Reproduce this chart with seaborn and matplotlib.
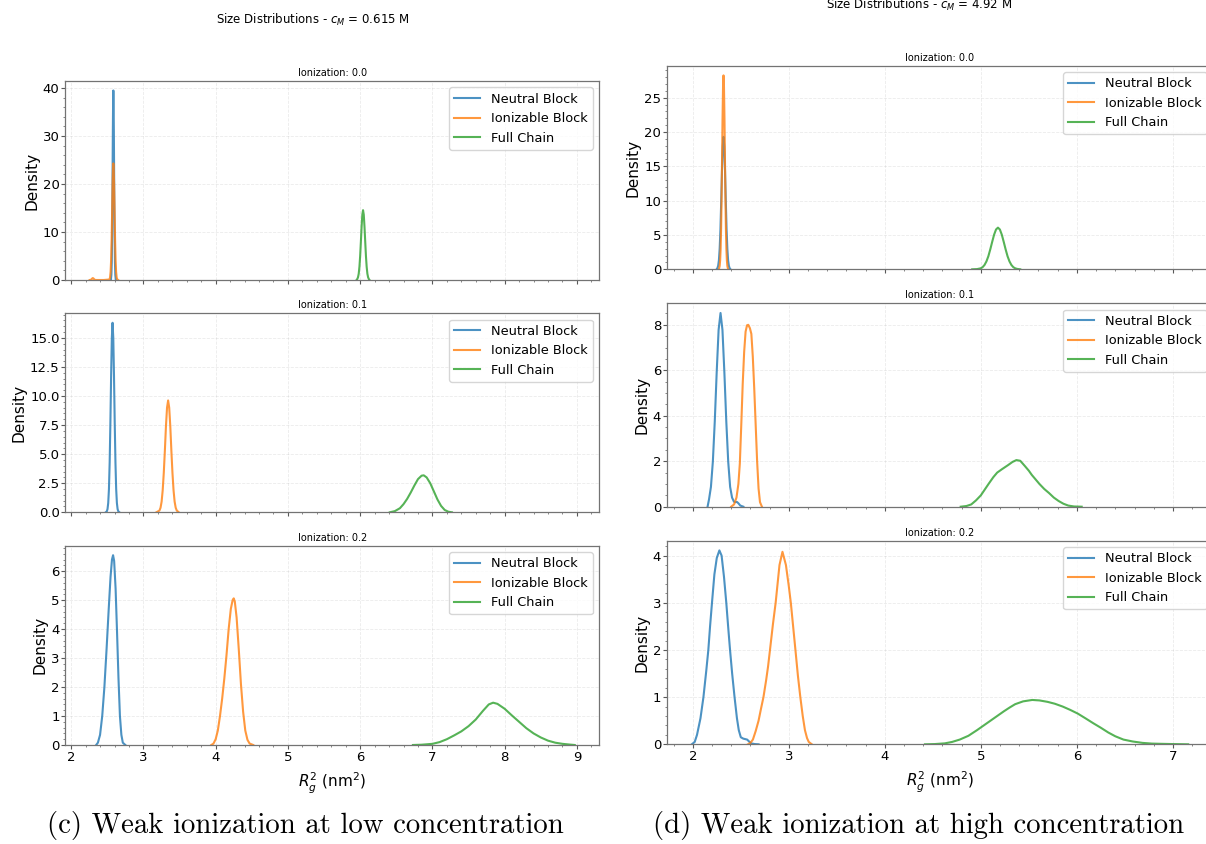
import matplotlib
matplotlib.use("Agg")
import matplotlib.pyplot as plt
from matplotlib.ticker import MultipleLocator, AutoMinorLocator, MaxNLocator
import seaborn as sns

# ---------------------------------------------------------------
# Density of R_g^2 (nm^2) for each block, c_M = 0.615 M
# ---------------------------------------------------------------
low_i00_neutral_x = [2.550, 2.557, 2.562, 2.567, 2.572, 2.577, 2.581, 2.584, 2.587, 2.591, 2.596, 2.601, 2.606, 2.611, 2.618]
low_i00_neutral_y = [0.0, 1.1, 3.7, 9.6, 19.4, 31.0, 37.8, 39.5, 37.8, 31.0, 19.4, 9.6, 3.7, 1.1, 0.0]
low_i00_ionizable_x = [2.256, 2.275, 2.290, 2.300, 2.310, 2.325, 2.345, 2.450, 2.529, 2.538, 2.546, 2.553, 2.560, 2.567, 2.574, 2.579, 2.584, 2.589, 2.594, 2.601, 2.608, 2.615, 2.622, 2.630, 2.639, 2.650]
low_i00_ionizable_y = [0.0, 0.05, 0.3, 0.4, 0.3, 0.05, 0.0, 0.0, 0.1, 0.5, 1.7, 4.1, 8.3, 14.2, 20.2, 23.2, 24.3, 23.2, 20.2, 14.2, 8.3, 4.1, 1.7, 0.5, 0.1, 0.0]
low_i00_full_x = [5.95, 5.96, 5.97, 5.98, 5.99, 6.00, 6.01, 6.02, 6.03, 6.04, 6.05, 6.06, 6.07, 6.08, 6.09, 6.10, 6.11, 6.12, 6.13]
low_i00_full_y = [0.0, 0.2, 0.56, 1.3, 2.75, 5.0, 8.0, 11.1, 13.6, 14.55, 13.6, 11.1, 8.0, 5.0, 2.75, 1.3, 0.56, 0.2, 0.0]

low_i01_neutral_x = [2.478, 2.493, 2.503, 2.513, 2.523, 2.533, 2.543, 2.553, 2.563, 2.573, 2.583, 2.593, 2.603, 2.613, 2.623, 2.633, 2.643, 2.653, 2.668]
low_i01_neutral_y = [0.0, 0.08, 0.27, 0.8, 2.0, 4.3, 7.7, 11.7, 15.0, 16.3, 15.0, 11.7, 7.7, 4.3, 2.0, 0.8, 0.27, 0.08, 0.0]
low_i01_ionizable_x = [3.180, 3.222, 3.237, 3.252, 3.267, 3.282, 3.297, 3.312, 3.327, 3.342, 3.357, 3.372, 3.387, 3.402, 3.417, 3.432, 3.447, 3.462, 3.490]
low_i01_ionizable_y = [0.0, 0.15, 0.39, 0.92, 1.9, 3.4, 5.3, 7.4, 9.0, 9.62, 9.0, 7.4, 5.3, 3.4, 1.9, 0.92, 0.39, 0.15, 0.0]
low_i01_full_x = [6.41, 6.48, 6.55, 6.60, 6.65, 6.70, 6.75, 6.80, 6.85, 6.88, 6.92, 6.97, 7.02, 7.07, 7.12, 7.17, 7.22, 7.27]
low_i01_full_y = [0.0, 0.1, 0.35, 0.7, 1.15, 1.7, 2.3, 2.85, 3.15, 3.18, 3.0, 2.5, 1.8, 1.1, 0.55, 0.2, 0.05, 0.0]

low_i02_neutral_x = [2.346, 2.37, 2.40, 2.43, 2.46, 2.49, 2.52, 2.545, 2.565, 2.58, 2.595, 2.615, 2.635, 2.655, 2.675, 2.695, 2.715, 2.75]
low_i02_neutral_y = [0.0, 0.08, 0.35, 1.0, 2.0, 3.3, 4.7, 5.8, 6.4, 6.55, 6.35, 5.4, 3.9, 2.3, 1.0, 0.35, 0.08, 0.0]
low_i02_ionizable_x = [3.94, 3.97, 4.00, 4.03, 4.06, 4.09, 4.12, 4.15, 4.18, 4.21, 4.235, 4.25, 4.265, 4.29, 4.32, 4.35, 4.38, 4.41, 4.44, 4.47, 4.52]
low_i02_ionizable_y = [0.0, 0.05, 0.2, 0.5, 1.0, 1.6, 2.3, 3.1, 4.0, 4.7, 5.0, 5.06, 4.95, 4.4, 3.3, 2.1, 1.15, 0.5, 0.18, 0.05, 0.0]
low_i02_full_x = [6.73, 6.85, 7.00, 7.10, 7.20, 7.30, 7.40, 7.50, 7.60, 7.70, 7.78, 7.84, 7.90, 8.00, 8.10, 8.20, 8.30, 8.40, 8.50, 8.60, 8.70, 8.80, 8.90, 8.97]
low_i02_full_y = [0.0, 0.01, 0.04, 0.1, 0.2, 0.33, 0.47, 0.65, 0.88, 1.18, 1.4, 1.46, 1.42, 1.25, 1.02, 0.8, 0.58, 0.4, 0.26, 0.15, 0.08, 0.04, 0.015, 0.0]

# ---------------------------------------------------------------
# Density of R_g^2 (nm^2) for each block, c_M = 4.92 M
# ---------------------------------------------------------------
high_i00_neutral_x = [2.248, 2.256, 2.264, 2.272, 2.280, 2.288, 2.296, 2.304, 2.312, 2.320, 2.328, 2.336, 2.344, 2.352, 2.360, 2.368, 2.376, 2.384, 2.393]
high_i00_neutral_y = [0.0, 0.16, 0.5, 1.3, 3.0, 5.8, 9.9, 14.3, 17.9, 19.3, 17.9, 14.3, 9.9, 5.8, 3.0, 1.3, 0.5, 0.16, 0.0]
high_i00_ionizable_x = [2.270, 2.275, 2.280, 2.285, 2.290, 2.295, 2.300, 2.305, 2.310, 2.315, 2.320, 2.325, 2.330, 2.335, 2.340, 2.345, 2.350, 2.355, 2.360, 2.365, 2.370]
high_i00_ionizable_y = [0.0, 0.17, 0.5, 1.3, 2.96, 5.9, 10.4, 16.1, 22.0, 26.5, 28.25, 26.5, 22.0, 16.1, 10.4, 5.9, 2.96, 1.3, 0.5, 0.17, 0.0]
high_i00_full_x = [4.910, 4.960, 4.998, 5.018, 5.038, 5.058, 5.078, 5.098, 5.118, 5.138, 5.158, 5.178, 5.198, 5.218, 5.238, 5.258, 5.278, 5.298, 5.318, 5.338, 5.358, 5.378, 5.410]
high_i00_full_y = [0.0, 0.03, 0.14, 0.31, 0.63, 1.15, 1.9, 2.9, 4.0, 5.05, 5.8, 6.07, 5.8, 5.05, 4.0, 2.9, 1.9, 1.15, 0.63, 0.31, 0.14, 0.06, 0.0]

high_i01_neutral_x = [2.154, 2.169, 2.189, 2.209, 2.229, 2.249, 2.269, 2.289, 2.309, 2.329, 2.349, 2.369, 2.389, 2.409, 2.429, 2.445, 2.460, 2.475, 2.495, 2.527]
high_i01_neutral_y = [0.0, 0.32, 0.87, 1.98, 3.75, 5.91, 7.78, 8.52, 7.78, 5.91, 3.75, 1.98, 0.87, 0.4, 0.22, 0.2, 0.21, 0.15, 0.05, 0.0]
high_i01_ionizable_x = [2.400, 2.430, 2.455, 2.475, 2.490, 2.505, 2.520, 2.535, 2.550, 2.565, 2.578, 2.595, 2.610, 2.625, 2.640, 2.655, 2.670, 2.685, 2.700, 2.720]
high_i01_ionizable_y = [0.0, 0.1, 0.4, 1.0, 1.9, 3.6, 5.4, 6.8, 7.7, 7.98, 8.0, 7.85, 7.6, 6.6, 5.2, 3.6, 2.0, 0.8, 0.2, 0.0]
high_i01_full_x = [4.79, 4.85, 4.90, 4.95, 5.00, 5.04, 5.08, 5.13, 5.17, 5.22, 5.28, 5.33, 5.37, 5.41, 5.456, 5.50, 5.53, 5.57, 5.61, 5.66, 5.71, 5.76, 5.81, 5.86, 5.91, 5.97, 6.05]
high_i01_full_y = [0.0, 0.03, 0.1, 0.28, 0.5, 0.75, 1.0, 1.3, 1.5, 1.65, 1.82, 1.97, 2.05, 2.02, 1.8, 1.58, 1.4, 1.2, 1.0, 0.78, 0.6, 0.4, 0.25, 0.13, 0.05, 0.01, 0.0]

high_i02_neutral_x = [1.990, 2.020, 2.044, 2.080, 2.111, 2.140, 2.162, 2.180, 2.200, 2.225, 2.250, 2.277, 2.300, 2.325, 2.349, 2.370, 2.388, 2.410, 2.435, 2.460, 2.479, 2.500, 2.526, 2.566, 2.606, 2.645, 2.685]
high_i02_neutral_y = [0.0, 0.05, 0.2, 0.55, 1.0, 1.55, 2.0, 2.5, 3.0, 3.6, 3.95, 4.11, 4.0, 3.55, 3.0, 2.45, 2.0, 1.5, 1.0, 0.55, 0.3, 0.15, 0.12, 0.1, 0.02, 0.005, 0.0]
high_i02_ionizable_x = [2.574, 2.600, 2.626, 2.655, 2.685, 2.710, 2.736, 2.764, 2.784, 2.804, 2.835, 2.863, 2.903, 2.934, 2.970, 3.000, 3.021, 3.045, 3.069, 3.095, 3.120, 3.145, 3.168, 3.190, 3.208, 3.240]
high_i02_ionizable_y = [0.0, 0.03, 0.1, 0.28, 0.5, 0.75, 1.0, 1.36, 1.65, 2.0, 2.55, 3.0, 3.8, 4.08, 3.8, 3.35, 3.0, 2.5, 2.0, 1.45, 1.0, 0.6, 0.3, 0.13, 0.05, 0.0]
high_i02_full_x = [4.418, 4.520, 4.625, 4.700, 4.780, 4.870, 4.960, 5.030, 5.100, 5.170, 5.240, 5.300, 5.357, 5.440, 5.535, 5.610, 5.694, 5.770, 5.852, 5.930, 6.010, 6.090, 6.168, 6.250, 6.327, 6.400, 6.485, 6.580, 6.683, 6.780, 6.880, 7.000, 7.159]
high_i02_full_y = [0.0, 0.005, 0.02, 0.05, 0.1, 0.18, 0.3, 0.4, 0.5, 0.6, 0.7, 0.78, 0.85, 0.91, 0.94, 0.93, 0.9, 0.86, 0.8, 0.73, 0.65, 0.55, 0.45, 0.35, 0.25, 0.17, 0.1, 0.06, 0.03, 0.015, 0.01, 0.005, 0.0]

block_labels = ["Neutral Block", "Ionizable Block", "Full Chain"]
ionization_levels = ["0.0", "0.1", "0.2"]
concentration_titles = [r"Size Distributions - $c_M$ = 0.615 M",
                        r"Size Distributions - $c_M$ = 4.92 M"]
captions = ["(c) Weak ionization at low concentration",
            "(d) Weak ionization at high concentration"]

low_panels = [
    [(low_i00_neutral_x, low_i00_neutral_y), (low_i00_ionizable_x, low_i00_ionizable_y), (low_i00_full_x, low_i00_full_y)],
    [(low_i01_neutral_x, low_i01_neutral_y), (low_i01_ionizable_x, low_i01_ionizable_y), (low_i01_full_x, low_i01_full_y)],
    [(low_i02_neutral_x, low_i02_neutral_y), (low_i02_ionizable_x, low_i02_ionizable_y), (low_i02_full_x, low_i02_full_y)],
]
high_panels = [
    [(high_i00_neutral_x, high_i00_neutral_y), (high_i00_ionizable_x, high_i00_ionizable_y), (high_i00_full_x, high_i00_full_y)],
    [(high_i01_neutral_x, high_i01_neutral_y), (high_i01_ionizable_x, high_i01_ionizable_y), (high_i01_full_x, high_i01_full_y)],
    [(high_i02_neutral_x, high_i02_neutral_y), (high_i02_ionizable_x, high_i02_ionizable_y), (high_i02_full_x, high_i02_full_y)],
]

# ---------------------------------------------------------------
# Figure layout (pixel boxes: left, top, right, bottom)
# ---------------------------------------------------------------
plt.rcParams["font.family"] = ["DejaVu Sans"]
W, H = 1206, 844
fig = plt.figure(figsize=(W / 100, H / 100), dpi=100)
fig.patch.set_facecolor("white")


def px_rect(left, top, right, bottom):
    return [left / W, 1 - bottom / H, (right - left) / W, (bottom - top) / H]


left_boxes = [(65.4, 81.0, 599.0, 280.0), (65.4, 313.3, 599.0, 512.3), (65.4, 545.7, 599.0, 745.0)]
right_boxes = [(667.0, 65.7, 1213.0, 269.3), (667.0, 303.3, 1213.0, 506.7), (667.0, 540.7, 1213.0, 744.3)]

palette = sns.color_palette("tab10", 3)


def draw_column(boxes, panels):
    axes = []
    for i, (box, curves) in enumerate(zip(boxes, panels)):
        ax = fig.add_axes(px_rect(*box), sharex=axes[0] if axes else None)
        for (xs, ys), label, color in zip(curves, block_labels, palette):
            sns.lineplot(x=xs, y=ys, ax=ax, color=color, label=label,
                         linewidth=1.5, alpha=0.8, estimator=None, sort=False)
        ax.set_ylim(bottom=0)
        ax.xaxis.set_major_locator(MultipleLocator(1))
        ax.xaxis.set_minor_locator(AutoMinorLocator())
        ax.yaxis.set_major_locator(MaxNLocator(nbins=8, steps=[1, 2, 2.5, 5, 10]))
        ax.yaxis.set_minor_locator(AutoMinorLocator())
        ax.tick_params(which="major", length=3, width=0.8, pad=1.2,
                       labelsize=9.5, color="0.35")
        ax.tick_params(which="minor", length=1.5, width=0.6, color="0.45")
        ax.grid(True, which="major", linestyle="--", linewidth=0.6, alpha=0.25)
        for spine in ax.spines.values():
            spine.set_color("0.45")
            spine.set_linewidth(0.9)
        ax.set_title(f"Ionization: {ionization_levels[i]}", fontsize=7, pad=3.6)
        ax.set_ylabel("Density", fontsize=11, labelpad=2.5)
        ax.legend(loc="upper right", fontsize=9.3, framealpha=0.8)
        if i < len(boxes) - 1:
            ax.tick_params(labelbottom=False)
            ax.set_xlabel("")
        else:
            ax.set_xlabel(r"$R_g^2$ (nm$^2$)", fontsize=11, labelpad=5)
        axes.append(ax)
    return axes


draw_column(left_boxes, low_panels)
draw_column(right_boxes, high_panels)

fig.text(312.8 / W, 1 - 24.0 / H, concentration_titles[0], fontsize=8.5,
         ha="center", va="baseline")
fig.text(919.5 / W, 1 - 9.0 / H, concentration_titles[1], fontsize=8.5,
         ha="center", va="baseline")

fig.text(305 / W, 1 - 833 / H, captions[0], fontfamily="cmr10", fontsize=20.7,
         ha="center", va="baseline")
fig.text(919 / W, 1 - 833 / H, captions[1], fontfamily="cmr10", fontsize=20.7,
         ha="center", va="baseline")

fig.savefig("out.png", dpi=100, facecolor="white")
